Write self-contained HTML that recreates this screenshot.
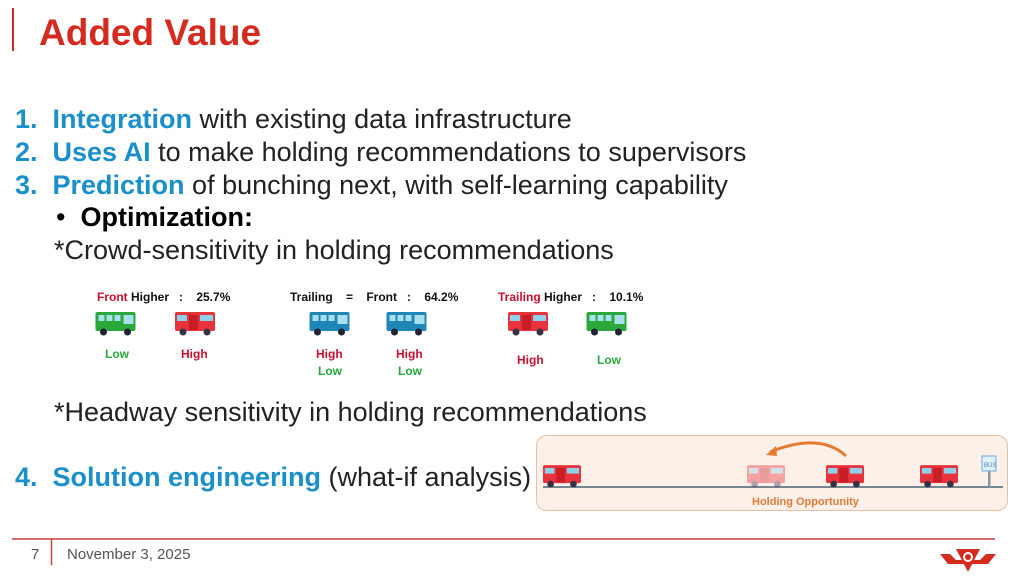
<!DOCTYPE html>
<html><head><meta charset="utf-8"><style>
html,body{margin:0;padding:0;background:#fff;}
body{width:1024px;height:579px;overflow:hidden;position:relative;font-family:"Liberation Sans",Arial,sans-serif;}
.t{position:absolute;white-space:nowrap;}
.l{font-size:27px;color:#222;left:15px;}
.b{color:#1a8fc9;font-weight:bold;}
svg{position:absolute;left:0;top:0;}
</style></head><body>
<div style="position:absolute;left:12px;top:8px;width:2px;height:43px;background:#d52b1e"></div>
<div class="t" style="left:39px;top:12px;font-size:37px;font-weight:bold;color:#d52b1e">Added Value</div>
<div class="t l" style="top:104px"><span class="b">1.&nbsp; Integration</span> with existing data infrastructure</div>
<div class="t l" style="top:137px"><span class="b">2.&nbsp; Uses AI</span> to make holding recommendations to supervisors</div>
<div class="t l" style="top:170px"><span class="b">3.&nbsp; Prediction</span> of bunching next, with self-learning capability</div>
<div class="t l" style="top:202px;left:56px;color:#000">•&nbsp; <b>Optimization:</b></div>
<div class="t l" style="top:235px;left:54px">*Crowd-sensitivity in holding recommendations</div>
<div class="t l" style="top:397px;left:54px">*Headway sensitivity in holding recommendations</div>
<div class="t l" style="top:462px"><span class="b">4.&nbsp; Solution engineering</span> (what-if analysis)</div>
<div class="t" style="left:31px;top:546px;font-size:15px;color:#555">7</div>
<div class="t" style="left:67px;top:546px;font-size:15px;color:#555">November 3, 2025</div>
<svg width="1024" height="579" viewBox="0 0 1024 579">
<defs>
<symbol id="gb" viewBox="0 0 40 26"><rect x="0" y="1" width="40" height="19" rx="2" fill="#2aa83c"/><rect x="3" y="4" width="6" height="6" fill="#a8e0f0"/><rect x="11" y="4" width="6" height="6" fill="#a8e0f0"/><rect x="19" y="4" width="6" height="6" fill="#a8e0f0"/><rect x="28" y="4" width="10" height="9" fill="#a8e0f0"/><circle cx="8" cy="21" r="3.5" fill="#223"/><circle cx="32" cy="21" r="3.5" fill="#223"/></symbol>
<symbol id="bb" viewBox="0 0 40 26"><rect x="0" y="1" width="40" height="19" rx="2" fill="#1f86b8"/><rect x="3" y="4" width="6" height="6" fill="#a8e0f0"/><rect x="11" y="4" width="6" height="6" fill="#a8e0f0"/><rect x="19" y="4" width="6" height="6" fill="#a8e0f0"/><rect x="28" y="4" width="10" height="9" fill="#a8e0f0"/><circle cx="8" cy="21" r="3.5" fill="#223"/><circle cx="32" cy="21" r="3.5" fill="#223"/></symbol>
<symbol id="rb" viewBox="0 0 40 26"><rect x="0" y="1" width="40" height="19" rx="2" fill="#e8323c"/><rect x="2" y="4" width="10" height="6" fill="#8fd0ea"/><rect x="14" y="4" width="9" height="15" fill="#c81e28"/><rect x="25" y="4" width="13" height="6" fill="#8fd0ea"/><circle cx="8" cy="21" r="3.5" fill="#334"/><circle cx="32" cy="21" r="3.5" fill="#334"/></symbol>
</defs>
<g font-family="Liberation Sans, Arial, sans-serif" font-weight="bold" font-size="12">
<text x="97" y="301" fill="#c8102e">Front <tspan fill="#111">Higher&#160;&#160; :&#160;&#160;&#160; 25.7%</tspan></text>
<text x="290" y="301" fill="#111">Trailing&#160;&#160;&#160; =&#160;&#160;&#160; Front&#160;&#160; :&#160;&#160;&#160; 64.2%</text>
<text x="498" y="301" fill="#c8102e">Trailing <tspan fill="#111">Higher&#160;&#160; :&#160;&#160;&#160; 10.1%</tspan></text>
<use href="#gb" x="95" y="311" width="41" height="26"/>
<use href="#rb" x="174" y="311" width="42" height="26"/>
<use href="#bb" x="309" y="311" width="41" height="26"/>
<use href="#bb" x="386" y="311" width="41" height="26"/>
<use href="#rb" x="507" y="311" width="42" height="26"/>
<use href="#gb" x="586" y="311" width="41" height="26"/>
<text x="105" y="358" fill="#2aa83c">Low</text>
<text x="181" y="358" fill="#c8102e">High</text>
<text x="316" y="358" fill="#c8102e">High</text><text x="318" y="375" fill="#2aa83c">Low</text>
<text x="396" y="358" fill="#c8102e">High</text><text x="398" y="375" fill="#2aa83c">Low</text>
<text x="517" y="364" fill="#c8102e">High</text>
<text x="597" y="364" fill="#2aa83c">Low</text>
</g>
<rect x="536.5" y="435.5" width="471" height="75" rx="10" fill="#fdf0e8" stroke="#e8c0a8"/>
<line x1="543" y1="487" x2="1003" y2="487" stroke="#4a6272" stroke-width="1.5"/>
<use href="#rb" x="543" y="464" width="38" height="25"/>
<g opacity="0.4"><use href="#rb" x="747" y="464" width="38" height="25"/></g>
<use href="#rb" x="826" y="464" width="38" height="25"/>
<use href="#rb" x="920" y="464" width="38" height="25"/>
<rect x="982" y="456" width="14" height="15" fill="#dff0fa" stroke="#6aa8d8"/>
<text x="984" y="467" font-size="6" fill="#4a80b8" font-family="Liberation Sans, sans-serif">BUS</text>
<rect x="988" y="471" width="2.5" height="16" fill="#8896a0"/>
<path d="M846 456 Q820 432 770 452" fill="none" stroke="#e87a30" stroke-width="3"/>
<path d="M766 455 L776 446 L777 456 Z" fill="#e87a30"/>
<text x="752" y="505" font-size="11" font-weight="bold" fill="#e07a3a" font-family="Liberation Sans, sans-serif">Holding Opportunity</text>
<line x1="12" y1="539" x2="995" y2="539" stroke="#c94040" stroke-width="1.5"/>
<line x1="51.5" y1="539" x2="51.5" y2="565" stroke="#c94040" stroke-width="1.5"/>
<path d="M940 554 L950 554 L956 560 L980 560 L986 554 L996 554 L988 564 L948 564 Z" fill="#d52b1e"/>
<path d="M956 549 L980 549 L968 572 Z" fill="#d52b1e"/>
<circle cx="968" cy="557" r="5" fill="#fff"/><circle cx="968" cy="557" r="3" fill="#d52b1e"/>
</svg>
</body></html>
